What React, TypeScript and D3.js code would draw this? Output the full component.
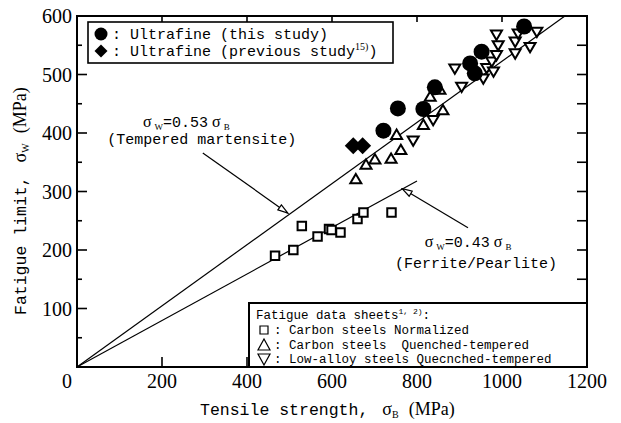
import React, { useEffect, useRef } from 'react';
import * as d3 from 'd3';

// tensile strength (MPa) / fatigue limit (MPa)
const normalizedX = [466, 509, 529, 566, 593, 599, 620, 660, 674, 740];
const normalizedY = [190, 200, 241, 223, 236, 234, 230, 253, 264, 264];

const carbonQtX = [656, 680, 701, 739, 762, 752, 815, 861, 831, 854];
const carbonQtY = [321, 346, 355, 356, 371, 397, 414, 439, 462, 474];

const lowAlloyX = [791, 838, 889, 905, 956, 964, 976, 980, 987, 991, 987, 1031, 1031, 1038, 1066, 1082];
const lowAlloyY = [387, 422, 510, 479, 493, 511, 522, 505, 533, 550, 568, 556, 536, 570, 547, 573];

const thisStudyX = [721, 755, 815, 842, 925, 936, 952, 1052];
const thisStudyY = [404, 442, 441, 478, 519, 502, 539, 582];

const prevStudyX = [650, 672];
const prevStudyY = [378, 378];

// reference lines as drawn
const martensiteLineX = [0, 1148];
const martensiteLineY = [0, 600];
const ferriteLineX = [0, 800];
const ferriteLineY = [0, 318];

const xTicks = [0, 200, 400, 600, 800, 1000, 1200];
const yTicks = [100, 200, 300, 400, 500, 600];

const MONO = '"Liberation Mono", monospace';
const SERIF = '"Liberation Serif", serif';

const App = () => {
  const ref = useRef<SVGSVGElement>(null);

  useEffect(() => {
    const svg = d3.select(ref.current);
    svg.selectAll('*').remove();

    const x = d3.scaleLinear().domain([0, 1200]).range([77, 587]);
    const y = d3.scaleLinear().domain([0, 600]).range([367, 16]);

    const defs = svg.append('defs');
    defs.append('marker').attr('id', 'openArrow')
      .attr('viewBox', '0 0 12 8').attr('refX', 11).attr('refY', 4)
      .attr('markerWidth', 12).attr('markerHeight', 8)
      .attr('markerUnits', 'userSpaceOnUse').attr('orient', 'auto')
      .append('path').attr('d', 'M1,1 L11,4 L1,7 Z')
      .attr('fill', '#fff').attr('stroke', '#000').attr('stroke-width', 1.2);

    // reference lines
    const line = d3.line<[number, number]>().x(d => x(d[0])).y(d => y(d[1]));
    svg.append('path').attr('d', line(d3.zip(martensiteLineX, martensiteLineY) as [number, number][]))
      .attr('stroke', '#000').attr('stroke-width', 1.2).attr('fill', 'none');
    svg.append('path').attr('d', line(d3.zip(ferriteLineX, ferriteLineY) as [number, number][]))
      .attr('stroke', '#000').attr('stroke-width', 1.2).attr('fill', 'none');

    // markers
    const sq = d3.symbol().type(d3.symbolSquare).size(72);
    svg.append('g').selectAll('path').data(d3.zip(normalizedX, normalizedY)).join('path')
      .attr('d', sq).attr('transform', d => `translate(${x(d[0])},${y(d[1])})`)
      .attr('fill', '#fff').attr('stroke', '#000').attr('stroke-width', 2);

    const tri = (down: boolean) => {
      const s = 5.5;
      return down
        ? `M${-s},${-s * 0.75} L${s},${-s * 0.75} L0,${s * 0.95} Z`
        : `M${-s},${s * 0.75} L${s},${s * 0.75} L0,${-s * 0.95} Z`;
    };
    svg.append('g').selectAll('path').data(d3.zip(carbonQtX, carbonQtY)).join('path')
      .attr('d', tri(false)).attr('transform', d => `translate(${x(d[0])},${y(d[1])})`)
      .attr('fill', '#fff').attr('stroke', '#000').attr('stroke-width', 2);
    svg.append('g').selectAll('path').data(d3.zip(lowAlloyX, lowAlloyY)).join('path')
      .attr('d', tri(true)).attr('transform', d => `translate(${x(d[0])},${y(d[1])})`)
      .attr('fill', '#fff').attr('stroke', '#000').attr('stroke-width', 2);

    svg.append('g').selectAll('path').data(d3.zip(prevStudyX, prevStudyY)).join('path')
      .attr('d', 'M0,-8.5 L8.5,0 L0,8.5 L-8.5,0 Z')
      .attr('transform', d => `translate(${x(d[0])},${y(d[1])})`).attr('fill', '#000');
    svg.append('g').selectAll('circle').data(d3.zip(thisStudyX, thisStudyY)).join('circle')
      .attr('cx', d => x(d[0])).attr('cy', d => y(d[1])).attr('r', 8).attr('fill', '#000');

    // frame
    svg.append('rect').attr('x', 77).attr('y', 16).attr('width', 510).attr('height', 351)
      .attr('fill', 'none').attr('stroke', '#000').attr('stroke-width', 2);

    // ticks
    const tk = svg.append('g').attr('stroke', '#000').attr('stroke-width', 1.6);
    d3.range(50, 600, 50).forEach(v => {
      const major = v % 100 === 0;
      tk.append('line').attr('x1', 77).attr('x2', 77 + (major ? 10 : 5)).attr('y1', y(v)).attr('y2', y(v));
      tk.append('line').attr('x1', 587).attr('x2', 577).attr('y1', y(v)).attr('y2', y(v));
    });
    xTicks.slice(1, -1).forEach(v => {
      tk.append('line').attr('x1', x(v)).attr('x2', x(v)).attr('y1', 367).attr('y2', 357);
      tk.append('line').attr('x1', x(v)).attr('x2', x(v)).attr('y1', 16).attr('y2', 22);
    });

    // tick labels
    svg.append('g').selectAll('text').data(xTicks).join('text')
      .attr('x', d => (d === 0 ? x(d) - 10 : x(d))).attr('y', 388)
      .attr('text-anchor', 'middle').attr('font-family', SERIF).attr('font-size', 20)
      .text(d => d);
    svg.append('g').selectAll('text').data(yTicks).join('text')
      .attr('x', 72).attr('y', d => y(d) + 7)
      .attr('text-anchor', 'end').attr('font-family', SERIF).attr('font-size', 20)
      .text(d => d);

    // axis titles
    const xt = svg.append('text').attr('x', 200).attr('y', 415).attr('font-family', MONO).attr('font-size', 16.5);
    xt.append('tspan').text('Tensile strength,');
    xt.append('tspan').attr('dx', 14).attr('font-family', SERIF).attr('font-size', 18).text('σ');
    xt.append('tspan').attr('font-family', SERIF).attr('font-size', 10).attr('dy', 3).text('B');
    xt.append('tspan').attr('dx', 10).attr('dy', -3).attr('font-family', SERIF).attr('font-size', 18).text('(MPa)');

    const yt = svg.append('text').attr('transform', 'translate(26,315) rotate(-90)')
      .attr('font-family', MONO).attr('font-size', 16.5);
    yt.append('tspan').text('Fatigue limit,');
    yt.append('tspan').attr('dx', 14).attr('font-family', SERIF).attr('font-size', 18).text('σ');
    yt.append('tspan').attr('font-family', SERIF).attr('font-size', 10).attr('dy', 3).text('W');
    yt.append('tspan').attr('dx', 10).attr('dy', -3).attr('font-family', SERIF).attr('font-size', 18).text('(MPa)');

    // annotations
    const eq = (xv: number, yv: number, sub: string, coef: string) => {
      const t = svg.append('text').attr('x', x(xv)).attr('y', y(yv))
        .attr('font-family', SERIF).attr('font-size', 16);
      t.append('tspan').text('σ');
      t.append('tspan').attr('font-size', 9).attr('dx', 3).attr('dy', 3).text(sub);
      t.append('tspan').attr('dy', -3).attr('font-family', MONO).attr('font-size', 15).text(`=${coef}`);
      t.append('tspan').attr('dx', 4).text('σ');
      t.append('tspan').attr('font-size', 9).attr('dx', 3).attr('dy', 3).text('B');
    };
    eq(155, 410, 'W', '0.53');
    svg.append('text').attr('x', x(71)).attr('y', y(382)).attr('font-family', MONO).attr('font-size', 15)
      .text('(Tempered martensite)');
    eq(818, 205, 'W', '0.43');
    svg.append('text').attr('x', x(748)).attr('y', y(170)).attr('font-family', MONO).attr('font-size', 15)
      .text('(Ferrite/Pearlite)');

    svg.append('line').attr('x1', x(296)).attr('y1', y(366)).attr('x2', x(496)).attr('y2', y(263))
      .attr('stroke', '#000').attr('stroke-width', 1.2).attr('marker-end', 'url(#openArrow)');
    svg.append('line').attr('x1', x(920)).attr('y1', y(238)).attr('x2', x(765)).attr('y2', y(305))
      .attr('stroke', '#000').attr('stroke-width', 1.2).attr('marker-end', 'url(#openArrow)');

    // top-left legend
    const lg = svg.append('g');
    lg.append('rect').attr('x', 88).attr('y', 22).attr('width', 305).attr('height', 41)
      .attr('fill', '#fff').attr('stroke', '#000').attr('stroke-width', 1.6);
    lg.append('circle').attr('cx', 101).attr('cy', 34).attr('r', 6.5).attr('fill', '#000');
    lg.append('path').attr('d', 'M0,-6.5 L6.5,0 L0,6.5 L-6.5,0 Z').attr('transform', 'translate(101,51)').attr('fill', '#000');
    lg.append('text').attr('x', 112).attr('y', 39).attr('font-family', MONO).attr('font-size', 15)
      .text(': Ultrafine (this study)');
    const l2 = lg.append('text').attr('x', 112).attr('y', 56).attr('font-family', MONO).attr('font-size', 15);
    l2.append('tspan').text(': Ultrafine (previous study');
    l2.append('tspan').attr('font-family', SERIF).attr('font-size', 10).attr('dy', -6).text('15)');
    l2.append('tspan').attr('dy', 6).text(')');

    // bottom-right legend
    const lb = svg.append('g');
    lb.append('rect').attr('x', 249).attr('y', 303).attr('width', 338).attr('height', 64)
      .attr('fill', '#fff').attr('stroke', '#000').attr('stroke-width', 2);
    const h = lb.append('text').attr('x', 256).attr('y', 319).attr('font-family', MONO).attr('font-size', 12.5);
    h.append('tspan').text('Fatigue data sheets');
    h.append('tspan').attr('font-size', 8).attr('dy', -5).text('1, 2)');
    h.append('tspan').attr('dy', 5).text(':');
    lb.append('path').attr('d', sq.size(64)()).attr('transform', 'translate(264,330)')
      .attr('fill', 'none').attr('stroke', '#000').attr('stroke-width', 1.2);
    lb.append('path').attr('d', 'M-6,5 L6,5 L0,-6 Z').attr('transform', 'translate(264,345)')
      .attr('fill', 'none').attr('stroke', '#000').attr('stroke-width', 1.2);
    lb.append('path').attr('d', 'M-6,-5 L6,-5 L0,6 Z').attr('transform', 'translate(264,359)')
      .attr('fill', 'none').attr('stroke', '#000').attr('stroke-width', 1.2);
    const rows = [': Carbon steels Normalized', ': Carbon steels  Quenched-tempered', ': Low-alloy steels Quecnched-tempered'];
    lb.selectAll('.row').data(rows).join('text').attr('class', 'row')
      .attr('x', 274).attr('y', (d, i) => 334 + i * 14.5)
      .attr('font-family', MONO).attr('font-size', 12.5).attr('xml:space', 'preserve')
      .style('white-space', 'pre').text(d => d);
  }, []);

  return (
    <svg ref={ref} width={621} height={423}
      style={{ position: 'absolute', left: 0, top: 0, background: '#fff' }} />
  );
};

export default App;
